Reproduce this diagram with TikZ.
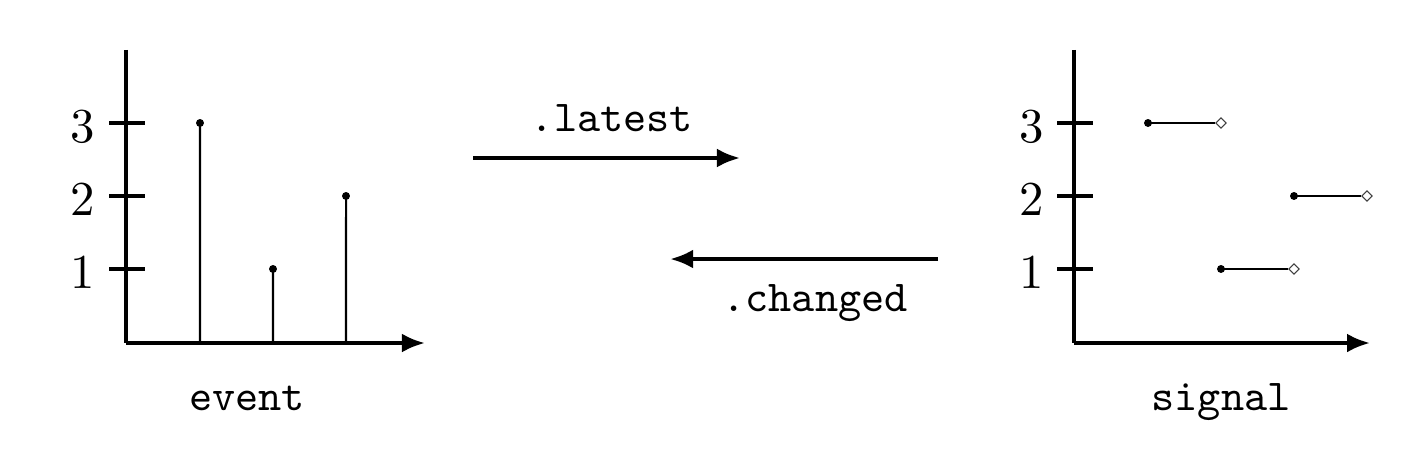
\documentclass[tikz,border=0pt]{standalone}
\usepackage{amsmath}
\usepackage{tikz}
\usetikzlibrary{arrows.meta,shapes.geometric}

\tikzset{
  axisline/.style={line width=1.6pt,-{Latex[length=9pt,width=7.4pt]}},
  tickline/.style={line width=1.6pt},
  stemline/.style={line width=0.8pt},
  mapline/.style={line width=1.6pt,-{Latex[length=9pt,width=7.4pt]}},
  ticklabel/.style={anchor=base,inner sep=0pt,font=\fontsize{10}{12}\selectfont},
  ttlabel/.style={anchor=base,inner sep=0pt,font=\fontsize{10}{12}\selectfont\ttfamily},
  fulldot/.style={circle,fill=black,inner sep=0pt,minimum size=3.1pt},
  opendot/.style={diamond,draw=black!75,fill=white,line width=0.45pt,inner sep=0pt,minimum size=4.2pt}
}
\newcommand{\bigdigit}[1]{\scalebox{1.9}{$#1$}}
\newcommand{\bigtt}[1]{\scalebox{1.72}{#1}}

\begin{document}
\begin{tikzpicture}[x=0.75pt,y=0.75pt,yscale=-0.52,xscale=0.52]
  \useasboundingbox (0,0) rectangle (1427,459);

  %Event plot: axes
  \coordinate (evt-o) at (126,343);
  \coordinate (evt-top) at (126,50);
  \coordinate (evt-end) at (425,343);
  \draw [tickline]   (evt-top) -- (evt-o) ;
  \draw [axisline]   (evt-o) -- (evt-end) ;
  %Event plot: ticks
  \draw [tickline]   (109,123) -- (145,123) ;
  \draw [tickline]   (109,196) -- (145,196) ;
  \draw [tickline]   (109,269) -- (145,269) ;
  \node [ticklabel] (evt-3) at (83,143) {\bigdigit{3}};
  \node [ticklabel] (evt-2) at (83,216) {\bigdigit{2}};
  \node [ticklabel] (evt-1) at (83,289) {\bigdigit{1}};
  %Event plot: stems
  \node [fulldot] (evt-a) at (200,123) {};
  \node [fulldot] (evt-b) at (273,269) {};
  \node [fulldot] (evt-c) at (346,196) {};
  \draw [stemline]   (200,343) -- (evt-a.center) ;
  \draw [stemline]   (273,343) -- (evt-b.center) ;
  \draw [stemline]   (346,343) -- (evt-c.center) ;
  \node [ttlabel] (lbl-event) at (247,411) {\bigtt{event}};

  %Signal plot: axes
  \coordinate (sig-o) at (1074,343);
  \coordinate (sig-top) at (1074,50);
  \coordinate (sig-end) at (1370,343);
  \draw [tickline]   (sig-top) -- (sig-o) ;
  \draw [axisline]   (sig-o) -- (sig-end) ;
  %Signal plot: ticks
  \draw [tickline]   (1057,123) -- (1093,123) ;
  \draw [tickline]   (1057,196) -- (1093,196) ;
  \draw [tickline]   (1057,269) -- (1093,269) ;
  \node [ticklabel] (sig-3) at (1032,143) {\bigdigit{3}};
  \node [ticklabel] (sig-2) at (1032,216) {\bigdigit{2}};
  \node [ticklabel] (sig-1) at (1032,289) {\bigdigit{1}};
  %Signal plot: steps
  \node [fulldot] (sig-a0) at (1148,123) {};
  \node [opendot] (sig-a1) at (1221,123) {};
  \node [fulldot] (sig-b0) at (1221,269) {};
  \node [opendot] (sig-b1) at (1294,269) {};
  \node [fulldot] (sig-c0) at (1294,196) {};
  \node [opendot] (sig-c1) at (1367,196) {};
  \draw [stemline]   (sig-a0.center) -- (sig-a1.west) ;
  \draw [stemline]   (sig-b0.center) -- (sig-b1.west) ;
  \draw [stemline]   (sig-c0.center) -- (sig-c1.west) ;
  \node [ttlabel] (lbl-signal) at (1221,411) {\bigtt{signal}};

  %Maps between the two
  \coordinate (latest-a) at (473,158);
  \coordinate (latest-b) at (740,158);
  \coordinate (changed-a) at (938,259);
  \coordinate (changed-b) at (670,259);
  \draw [mapline]   (latest-a) -- (latest-b) ;
  \draw [mapline]   (changed-a) -- (changed-b) ;
  \node [ttlabel] (lbl-latest) at (612,132) {\bigtt{.latest}};
  \node [ttlabel] (lbl-changed) at (815,312) {\bigtt{.changed}};
\end{tikzpicture}
\end{document}
